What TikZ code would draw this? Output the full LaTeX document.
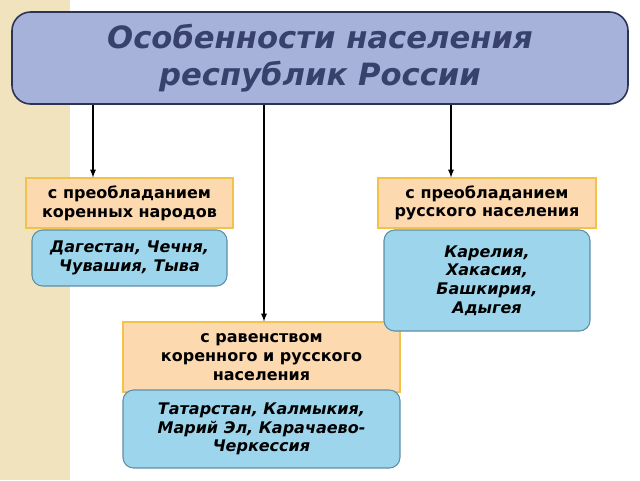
\documentclass[tikz,border=0pt]{standalone}
\usepackage{fontspec}
\setmainfont{DejaVu Sans}
\usetikzlibrary{positioning}
\definecolor{strip}{HTML}{F1E3BE}
\definecolor{titlefill}{HTML}{A7B2DA}
\definecolor{titletext}{HTML}{37416B}
\definecolor{orangefill}{HTML}{FDD9B0}
\definecolor{orangeline}{HTML}{F2C24A}
\definecolor{bluefill}{HTML}{9DD6EC}
\definecolor{blueline}{HTML}{5E8FA8}
\tikzset{
  typebox/.style={fill=orangefill,draw=orangeline,line width=0.8pt,align=center,
    font=\bfseries\fontsize{12}{14}\selectfont,inner sep=2pt},
  listbox/.style={fill=bluefill,draw=blueline,line width=0.8pt,rounded corners=8pt,align=center,
    font=\bfseries\itshape\fontsize{12}{14}\selectfont,inner sep=2pt},
  link/.style={->,>=latex,line width=1pt}
}
\begin{document}
\begin{tikzpicture}[x=0.75pt,y=-0.75pt]
    \useasboundingbox (0,0) rectangle (640,480);
    \fill[white] (0,0) rectangle (640,480);
    \fill[strip] (0,0) rectangle (70,480);
    
    \node[fill=titlefill,draw=titletext!80!black,line width=1.2pt,rounded corners=14pt,
      minimum width=616*0.75pt,minimum height=92*0.75pt,align=center,text=titletext,
      font=\bfseries\itshape\fontsize{23}{28}\selectfont] (title) at (320,58)
      {Особенности населения\\республик России};
    
    \node[typebox,minimum width=207*0.75pt,minimum height=50*0.75pt] (native) at (129.5,203)
      {с преобладанием\\коренных народов};
    \node[typebox,minimum width=218*0.75pt,minimum height=50*0.75pt] (russian) at (487,203)
      {с преобладанием\\русского населения};
    \node[typebox,minimum width=277*0.75pt,minimum height=70*0.75pt] (equal) at (261.5,357)
      {с равенством\\коренного и русского\\населения};
    
    \node[listbox,minimum width=195*0.75pt,minimum height=56*0.75pt] (nativelist) at (129.5,258)
      {Дагестан, Чечня,\\Чувашия, Тыва};
    \node[listbox,minimum width=206*0.75pt,minimum height=101*0.75pt] (russianlist) at (487,280.5)
      {Карелия,\\Хакасия,\\Башкирия,\\Адыгея};
    \node[listbox,minimum width=277*0.75pt,minimum height=78*0.75pt] (equallist) at (261.5,429)
      {Татарстан, Калмыкия,\\Марий Эл, Карачаево-\\Черкессия};
    
    \draw[link] (title.south -| 93,0) -- (native.north -| 93,0);
    \draw[link] (title.south -| 451,0) -- (russian.north -| 451,0);
    \draw[link] (title.south -| 264,0) -- (equal.north -| 264,0);
\end{tikzpicture}
\end{document}
